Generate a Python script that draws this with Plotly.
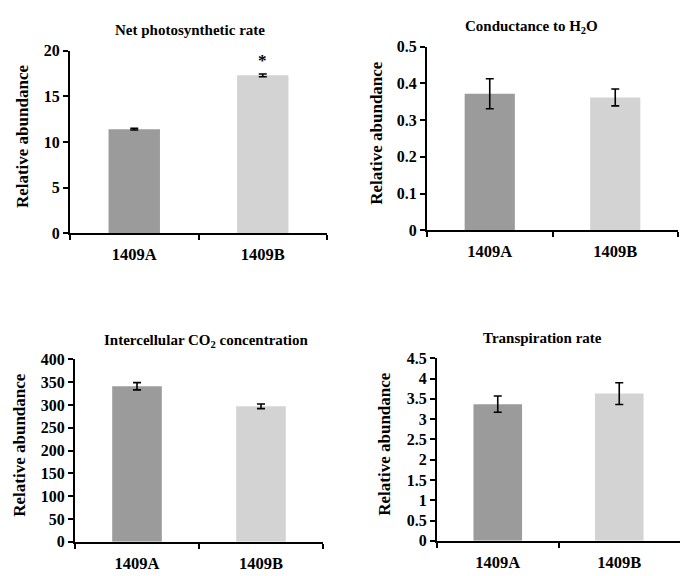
import plotly.graph_objects as go

categories = ["1409A", "1409B"]
bar_colors = ["#9b9b9b", "#d3d3d3"]

titles = ["Net photosynthetic rate", "Conductance to H<sub>2</sub>O",
          "Intercellular CO<sub>2</sub> concentration", "Transpiration rate"]

net_photo = [11.4, 17.3]
net_photo_err = [0.1, 0.15]
conductance = [0.372, 0.362]
conductance_err = [0.041, 0.023]
co2_conc = [341, 297]
co2_conc_err = [8, 5]
transpiration = [3.37, 3.63]
transpiration_err = [0.2, 0.27]

y_ranges = [[0, 20], [0, 0.5], [0, 400], [0, 4.5]]
y_dticks = [5, 0.1, 50, 0.5]
significance = [["", "*"], ["", ""], ["", ""], ["", ""]]

values = [net_photo, conductance, co2_conc, transpiration]
errors = [net_photo_err, conductance_err, co2_conc_err, transpiration_err]

W, H = 680, 576
# pixel boxes: (x0, x1, ytop, ybottom)
boxes = [(70, 327, 44, 232), (427, 678, 40, 229), (75, 323, 362, 550), (437, 680, 361, 549)]
title_pos = [(190, 23), (531, 20), (207, 343), (542, 340)]
ytitle_x = [22, 377, 20, 385]

FONT = "Liberation Serif"

def f(size):
    return dict(family=FONT, size=size, color="black", weight="bold")

fig = go.Figure()
layout = dict(
    width=W, height=H, margin=dict(l=0, r=0, t=0, b=0),
    paper_bgcolor="white", plot_bgcolor="white", showlegend=False,
    font=dict(family=FONT, color="black"),
    bargap=0.6, annotations=[],
)

for i in range(4):
    n = "" if i == 0 else str(i + 1)
    xa, ya = "x" + n, "y" + n
    fig.add_trace(go.Bar(
        x=categories, y=values[i], xaxis=xa, yaxis=ya,
        marker=dict(color=bar_colors, line=dict(width=0)),
        error_y=dict(type="data", array=errors[i], color="black", thickness=1.6, width=4),
    ))
    x0, x1, yt, yb = boxes[i]
    layout["xaxis" + n] = dict(
        domain=[x0 / W, x1 / W], anchor=ya, type="category", range=[-0.5, 1.5],
        showline=True, linecolor="black", linewidth=2, ticks="outside", tickson="boundaries",
        ticklen=5, tickwidth=1.5, tickcolor="black", showgrid=False, zeroline=False,
        tickfont=f(16.5), ticklabelstandoff=5,
    )
    layout["yaxis" + n] = dict(
        domain=[1 - yb / H, 1 - yt / H], anchor=xa, range=y_ranges[i], dtick=y_dticks[i],
        showline=True, linecolor="black", linewidth=2, ticks="outside", ticklen=5,
        tickwidth=1.5, tickcolor="black", showgrid=False, zeroline=False,
        tickfont=f(16),
    )
    tx, ty = title_pos[i]
    layout["annotations"].append(dict(
        text="<b>" + titles[i] + "</b>", x=tx / W, y=1 - ty / H, xref="paper", yref="paper",
        showarrow=False, xanchor="center", yanchor="middle", font=f(15),
    ))
    layout["annotations"].append(dict(
        text="<b>Relative abundance</b>", x=ytitle_x[i] / W, y=1 - ((yt + yb) / 2 - 6) / H,
        xref="paper", yref="paper", textangle=-90, showarrow=False,
        xanchor="center", yanchor="middle", font=f(17),
    ))
    for j, s in enumerate(significance[i]):
        if s:
            layout["annotations"].append(dict(
                text="<b>" + s + "</b>", x=categories[j], y=values[i][j] + errors[i][j],
                xref=xa, yref=ya, showarrow=False, yanchor="bottom", yshift=2, font=f(17),
            ))

fig.update_layout(**layout)
fig.write_html("out.html")
